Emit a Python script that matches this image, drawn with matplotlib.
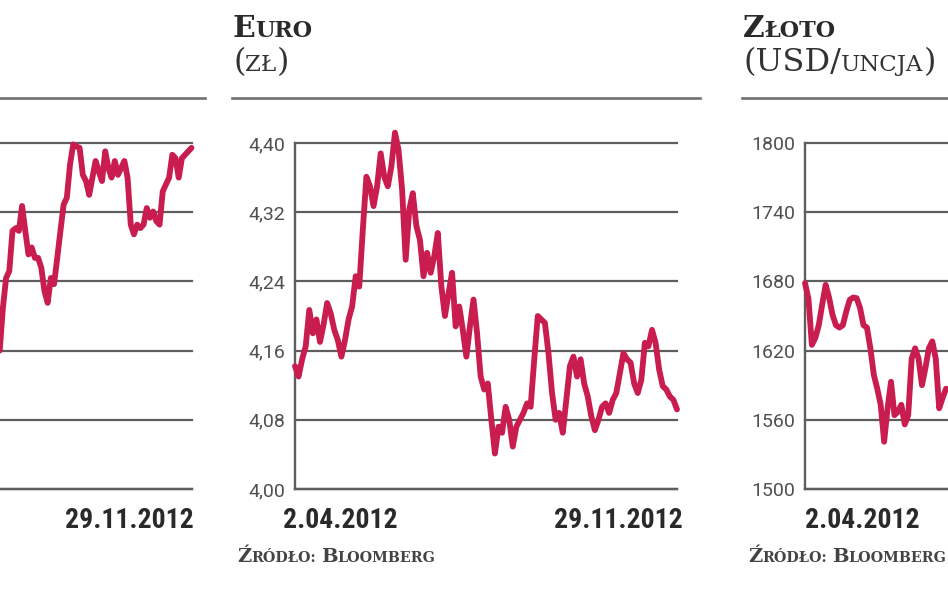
import matplotlib
matplotlib.use('Agg')
import matplotlib.pyplot as plt
import matplotlib.transforms as mtransforms
from matplotlib.lines import Line2D
from matplotlib import font_manager as fm
from matplotlib.font_manager import FontProperties
import pandas as pd

# ---------------- data ----------------
period_start = '2012-04-02'
period_end = '2012-11-29'
date_labels = ['2.04.2012', '29.11.2012']

# EUR/PLN (zł), 2.04.2012 - 29.11.2012
euro_values = [4.142, 4.13, 4.15, 4.165, 4.207, 4.18, 4.196, 4.17, 4.19, 4.215,
               4.203, 4.184, 4.172, 4.153, 4.172, 4.196, 4.211, 4.246, 4.234, 4.30,
               4.361, 4.35, 4.327, 4.35, 4.388, 4.361, 4.35, 4.373, 4.412, 4.392,
               4.346, 4.265, 4.323, 4.342, 4.304, 4.288, 4.246, 4.273, 4.25, 4.269,
               4.296, 4.234, 4.20, 4.226, 4.25, 4.188, 4.211, 4.184, 4.153, 4.188,
               4.219, 4.18, 4.13, 4.115, 4.122, 4.08, 4.041, 4.072, 4.065, 4.095,
               4.08, 4.049, 4.072, 4.08, 4.088, 4.099, 4.095, 4.149, 4.20, 4.196,
               4.192, 4.157, 4.111, 4.08, 4.088, 4.065, 4.103, 4.142, 4.153, 4.13,
               4.15, 4.122, 4.107, 4.084, 4.068, 4.08, 4.095, 4.099, 4.088, 4.103,
               4.111, 4.134, 4.157, 4.15, 4.146, 4.122, 4.111, 4.126, 4.169, 4.165,
               4.184, 4.169, 4.138, 4.119, 4.115, 4.107, 4.103, 4.092]
euro_ticks = [4.00, 4.08, 4.16, 4.24, 4.32, 4.40]

# Gold (USD/uncja) - only the part visible in the crop (2.04 - ~30.06.2012)
gold_visible_end = '2012-06-30'
gold_values = [1678.6, 1665, 1625, 1631, 1642, 1660, 1677, 1666, 1651, 1642,
               1640, 1642, 1654, 1664, 1666, 1665.5, 1657, 1642, 1640, 1622,
               1599, 1587, 1573, 1541, 1570, 1593, 1564, 1567, 1573, 1556,
               1564, 1613, 1622, 1613, 1590, 1605, 1622, 1628, 1613, 1570,
               1579, 1587]
gold_ticks = [1500, 1560, 1620, 1680, 1740, 1800]

# Left (cropped) panel - scale labels are cut off, values in gridline steps
left_visible_start = '2012-07-31'
left_values = [2.0, 2.62, 3.05, 3.15, 3.73, 3.77, 3.73, 4.09, 3.73, 3.39,
               3.49, 3.34, 3.34, 3.20, 2.86, 2.69, 3.05, 2.96, 3.34, 3.73,
               4.11, 4.21, 4.69, 4.98, 4.95, 4.93, 4.54, 4.45, 4.25, 4.50,
               4.74, 4.59, 4.45, 4.88, 4.64, 4.50, 4.74, 4.54, 4.64, 4.74,
               4.50, 3.82, 3.68, 3.82, 3.77, 3.82, 4.06, 3.92, 4.01, 3.87,
               3.82, 4.30, 4.40, 4.50, 4.83, 4.78, 4.50, 4.78, 4.83, 4.88,
               4.93]
left_ticks = [0, 1, 2, 3, 4, 5]

# ---------------- style ----------------
LINE_C = '#C81D4E'
GRID_C = '#5e5e5e'
TEXT_C = '#2a2a2a'
TICK_C = '#505050'

names = {f.name for f in fm.fontManager.ttflist}
cond_family, cond_stretch = 'DejaVu Sans', 'normal'
found = False
for cand in ['Roboto Condensed', 'Liberation Sans Narrow', 'DejaVu Sans Condensed',
             'Open Sans Condensed']:
    if cand in names:
        cond_family, found = cand, True
        break
if not found:
    if any(f.name == 'DejaVu Sans' and f.stretch in ('condensed', 'semi-condensed')
           for f in fm.fontManager.ttflist):
        cond_stretch = 'condensed'
    elif 'Roboto' in names:
        cond_family = 'Roboto'

tick_family = 'Roboto' if 'Roboto' in names else cond_family
tick_fp = FontProperties(family=tick_family, size=14, weight='normal')
date_fp = FontProperties(family=cond_family, stretch=cond_stretch, size=20, weight='bold')

W, H = 948, 593
fig = plt.figure(figsize=(W / 100, H / 100), dpi=100)
fig.patch.set_facecolor('white')
ident = mtransforms.IdentityTransform()


def px_axes(left, top, right, bottom):
    return fig.add_axes([left / W, 1 - bottom / H, (right - left) / W, (bottom - top) / H])


def style_axes(ax, ticks, fmt, show_labels=True):
    ax.set_xlim(pd.Timestamp(period_start), pd.Timestamp(period_end))
    ax.set_ylim(ticks[0], ticks[-1])
    ax.set_yticks(ticks)
    ax.set_yticklabels([fmt(t) for t in ticks] if show_labels else [])
    for lab in ax.get_yticklabels():
        lab.set_fontproperties(tick_fp)
    ax.tick_params(axis='y', length=0, pad=7, labelcolor=TICK_C)
    ax.tick_params(axis='x', length=0, labelbottom=False)
    ax.set_xticks([])
    ax.grid(axis='y', color=GRID_C, lw=1.6)
    for gl in ax.get_ygridlines():
        gl.set_clip_on(False)
    for s in ['top', 'right']:
        ax.spines[s].set_visible(False)
    for s in ['left', 'bottom']:
        ax.spines[s].set_color(GRID_C)
        ax.spines[s].set_linewidth(1.7)
    ax.set_facecolor('none')
    ax.set_axisbelow(True)


def draw_line(ax, start, end, values):
    dates = pd.date_range(start, end, periods=len(values))
    ax.plot(dates, values, color=LINE_C, lw=4.2, solid_joinstyle='round',
            solid_capstyle='round', clip_on=False, zorder=3)


def date_label(ax, text, xfrac, dx, ha):
    ax.annotate(text, xy=(xfrac, 0), xycoords='axes fraction', xytext=(dx, -39),
                textcoords='offset pixels', ha=ha, va='baseline',
                fontproperties=date_fp, color=TEXT_C, annotation_clip=False)


# Left (cropped) panel
ax_l = px_axes(-190.5, 143, 191.5, 489)
style_axes(ax_l, left_ticks, lambda t: '', show_labels=False)
draw_line(ax_l, left_visible_start, period_end, left_values)
date_label(ax_l, date_labels[1], 1, 2, 'right')

# Middle panel: Euro
ax_m = px_axes(295, 143, 677, 489)
style_axes(ax_m, euro_ticks, lambda t: f'{t:.2f}'.replace('.', ','))
draw_line(ax_m, period_start, period_end, euro_values)
date_label(ax_m, date_labels[0], 0, -12, 'left')
date_label(ax_m, date_labels[1], 1, 6, 'right')

# Right (cropped) panel: Gold
ax_r = px_axes(805, 143, 1187, 489)
style_axes(ax_r, gold_ticks, lambda t: f'{t:d}')
draw_line(ax_r, period_start, gold_visible_end, gold_values)
date_label(ax_r, date_labels[0], 0, 0, 'left')

# Header rules
for x0, x1 in [(0, 205), (232, 700), (742, 948)]:
    fig.add_artist(Line2D([x0, x1], [H - 98, H - 98], transform=ident,
                          color='#707070', lw=1.9))

renderer = fig.canvas.get_renderer()


def rich(x, y_img, chunks, color=TEXT_C):
    y = H - y_img
    for s, size, weight, family in chunks:
        t = fig.text(x, y, s, transform=ident, fontsize=size, fontweight=weight,
                     family=family, color=color, ha='left', va='baseline')
        x = t.get_window_extent(renderer).x1


SER = 'DejaVu Serif'
rich(233, 37, [('E', 21.5, 'bold', SER), ('URO', 16, 'bold', SER)])
rich(233, 71, [('(', 23, 'normal', SER), ('ZŁ', 16.5, 'normal', SER), (')', 23, 'normal', SER)],
     color='#333333')
rich(743, 37, [('Z', 21.5, 'bold', SER), ('ŁOTO', 16, 'bold', SER)])
rich(743, 71, [('(USD/', 23, 'normal', SER), ('UNCJA', 16.5, 'normal', SER), (')', 23, 'normal', SER)],
     color='#333333')

for xs in (237, 748):
    rich(xs, 562, [('Ź', 14, 'bold', SER), ('RÓDŁO:', 10.3, 'bold', SER), (' ', 10.3, 'bold', SER),
                   ('B', 14, 'bold', SER), ('LOOMBERG', 10.3, 'bold', SER)], color='#444444')

fig.savefig('out.png', dpi=100, facecolor='white')
